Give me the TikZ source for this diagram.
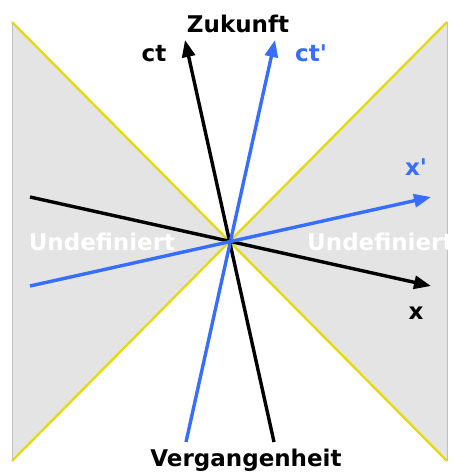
\documentclass[tikz,border=0pt]{standalone}
\usepackage{fontspec}
\setmainfont{DejaVu Sans}
\usetikzlibrary{arrows.meta, positioning, calc}
\definecolor{axisblue}{RGB}{55,110,255}
\definecolor{coneyellow}{RGB}{228,218,20}
\definecolor{zonegray}{RGB}{228,228,228}
\tikzstyle{axis} = [line width=3.4pt, -{Triangle[length=17pt,width=13pt]}]
\tikzstyle{lbl} = [font=\fontsize{23}{25}\selectfont\bfseries, inner sep=0pt]
\tikzstyle{zone} = [fill=zonegray]
\tikzstyle{cone} = [draw=coneyellow, line width=2.4pt]

\begin{document}
\begin{tikzpicture}[x=1pt, y=-1pt]
  \useasboundingbox (0,0) rectangle (453,474);
  % Ereignis und Ecken
  \coordinate (o) at (230,241);
  \coordinate (tl) at (12,22);
  \coordinate (bl) at (12,461);
  \coordinate (tr) at (447,22);
  \coordinate (br) at (447,461);

  % Undefinierte Bereiche
  \fill[zone] (tl) -- (o) -- (bl) -- cycle;
  \fill[zone] (tr) -- (o) -- (br) -- cycle;
  \draw[black!25, line width=0.8pt] (tl) -- (bl);
  \draw[black!25, line width=0.8pt] (tr) -- (br);
  \draw[cone] (tl) -- (br);
  \draw[cone] (tr) -- (bl);

  \node[lbl, text=white] (undefl) at (102,242) {Undefiniert};
  \node[lbl, text=white, anchor=west] (undefr) at (307,242) {Undefiniert};

  % Achsen
  \coordinate (ctend) at (185,40);
  \coordinate (ctstart) at (274,442);
  \coordinate (ctpend) at (275,40);
  \coordinate (ctpstart) at (186,442);
  \coordinate (xstart) at (30,197);
  \coordinate (xend) at (431,286);
  \coordinate (xpstart) at (30,286);
  \coordinate (xpend) at (431,197);

  \draw[axis] (ctstart) -- (ctend);
  \draw[axis, axisblue] (ctpstart) -- (ctpend);
  \draw[axis] (xstart) -- (xend);
  \draw[axis, axisblue] (xpstart) -- (xpend);

  % Beschriftungen
  \node[lbl] (zukunft) at (238,24) {Zukunft};
  \node[lbl] (vergangen) at (246,460) {Vergangenheit};
  \node[lbl] (ct) at (154,54) {ct};
  \node[lbl, text=axisblue] (ctp) at (311,53) {ct\textquotesingle};
  \node[lbl, text=axisblue] (xp) at (416,167) {x\textquotesingle};
  \node[lbl] (x) at (416,313) {x};
\end{tikzpicture}
\end{document}
